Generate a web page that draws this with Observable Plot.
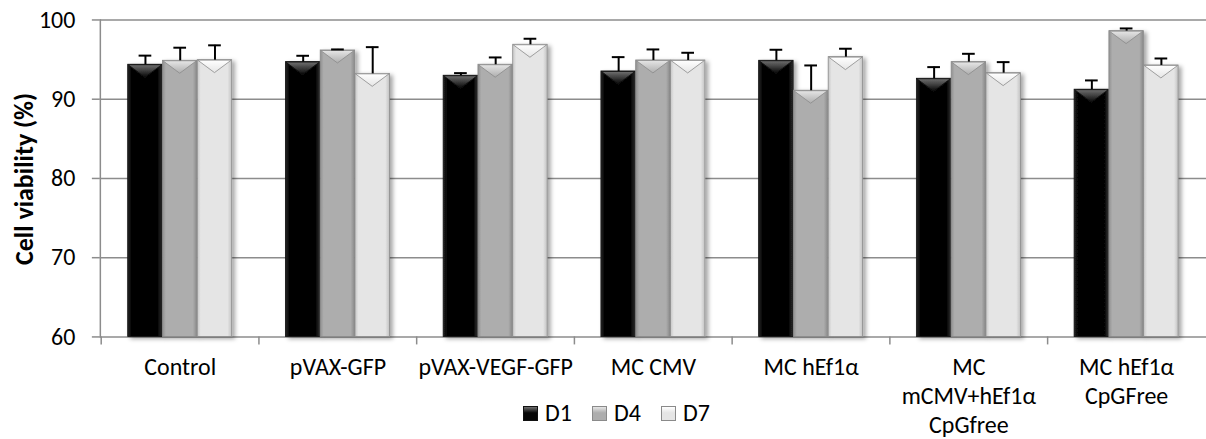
<!DOCTYPE html>
<html>
<head>
<meta charset="utf-8">
<script src="https://cdn.jsdelivr.net/npm/d3@7"></script>
<script src="https://cdn.jsdelivr.net/npm/@observablehq/plot@0.6"></script>
<style>
  html, body { margin: 0; padding: 0; background: #fff; overflow: hidden; }
  #chart { position: relative; width: 1206px; height: 439px; overflow: hidden;
           font-family: Carlito, Calibri, Lato, sans-serif; color: #000; }
  #chart svg { position: absolute; left: 0; top: 0; overflow: visible; }
  .legend { position: absolute; left: 523px; top: 401px; display: flex; align-items: center;
            font-size: 24px; line-height: 24px; }
  .legend .item { display: flex; align-items: center; margin-right: 20px; }
  .legend .sw { width: 15px; height: 15px; box-sizing: border-box; margin-right: 7px; }
</style>
</head>
<body>
<div id="chart"></div>
<script>
// Cell viability (%) per construct, measured on day 1, 4 and 7
const categories = [
  "Control",
  "pVAX-GFP",
  "pVAX-VEGF-GFP",
  "MC CMV",
  "MC hEf1α",
  "MC\nmCMV+hEf1α\nCpGfree",
  "MC hEf1α\nCpGFree"
];
const series = ["D1", "D4", "D7"];
const d1 = [94.35, 94.68, 92.96, 93.50, 94.85, 92.58, 91.20];
const d1Err = [1.15, 0.80, 0.33, 1.81, 1.39, 1.47, 1.17];
const d4 = [94.85, 96.15, 94.35, 94.89, 91.07, 94.68, 98.59];
const d4Err = [1.65, 0.13, 0.92, 1.39, 3.19, 1.05, 0.34];
const d7 = [94.93, 93.20, 96.87, 94.89, 95.31, 93.29, 94.26];
const d7Err = [1.87, 3.37, 0.76, 0.97, 1.06, 1.39, 0.88];
const yTicks = [60, 70, 80, 90, 100];
const yMin = 60, yMax = 100;
const yTitle = "Cell viability (%)";

const valuesBySeries = {D1: [d1, d1Err], D4: [d4, d4Err], D7: [d7, d7Err]};
const rows = series.flatMap((s) =>
  categories.map((c, i) => ({category: c, series: s, value: valuesBySeries[s][0][i], err: valuesBySeries[s][1][i]}))
);

// layout
const W = 1208, H = 439;
const mLeft = 100, mRight = 0, mTop = 19.5, mBottom = 102;
const step = (W - mLeft - mRight) / categories.length;
const groupPad = 0.17 * step;      // space before the first bar in a band
const barW = 0.22 * step;          // width of one bar
const capW = 13;

const gray = "#8c8c8c";
const font = "Carlito, Calibri, Lato, sans-serif";

function seriesMarks(s, k) {
  const data = rows.filter((d) => d.series === s);
  const left = groupPad + k * barW;
  const right = step - left - barW;
  const center = left + barW / 2;
  const capL = center - capW / 2;
  const capR = step - center - capW / 2;
  return [
    Plot.barY(data, {
      x: "category", y1: () => yMin, y2: "value",
      insetLeft: left, insetRight: right,
      fill: `url(#grad-${s})`,
      stroke: s === "D1" ? "#111" : "#8a8a8a", strokeWidth: 0.8
    }),
    Plot.ruleX(data, {
      x: "category", y1: "value", y2: (d) => d.value + d.err,
      dx: center - step / 2, stroke: "#000", strokeWidth: 2
    }),
    Plot.tickY(data, {
      y: (d) => d.value + d.err, x: "category",
      insetLeft: capL, insetRight: capR, stroke: "#000", strokeWidth: 2
    })
  ];
}

const plot = Plot.plot({
  width: W, height: H,
  marginLeft: mLeft, marginRight: mRight, marginTop: mTop, marginBottom: mBottom,
  style: {fontFamily: font, fontSize: "24px", color: "#000", background: "transparent"},
  x: {domain: categories, padding: 0, axis: null},
  y: {domain: [yMin, yMax], axis: null},
  marks: [
    Plot.gridY(yTicks, {stroke: gray, strokeOpacity: 1, strokeWidth: 1.5}),
    Plot.frame({anchor: "left", stroke: gray, strokeWidth: 1.5}),
    Plot.axisY(yTicks, {tickSize: 8, tickPadding: 17, fontSize: 24, stroke: gray, strokeWidth: 1.5,
      label: null}),
    Plot.axisX({tickSize: 8, tickFormat: () => "", dx: -step / 2, stroke: gray, strokeWidth: 1.5, label: null}),
    Plot.axisX({tickSize: 0, tickPadding: 18, fontSize: 24, lineHeight: 1.2, label: null}),
    ...series.flatMap((s, k) => seriesMarks(s, k))
  ]
});

const chart = document.getElementById("chart");
chart.appendChild(plot);

// bevelled bar look: side shading, top chevron, soft drop shadow
const shades = {
  D1: {edgeL: "#262626", mid: "#060606", edgeR: "#303030", top: "#707070"},
  D4: {edgeL: "#909090", mid: "#adadad", edgeR: "#8a8a8a", top: "#e6e6e6"},
  D7: {edgeL: "#c6c6c6", mid: "#e5e5e5", edgeR: "#c2c2c2", top: "#ffffff"}
};
const svg = d3.select(plot);
const defs = svg.insert("defs", ":first-child");
const shadow = defs.append("filter").attr("id", "bar-shadow")
  .attr("x", "-20%").attr("y", "-5%").attr("width", "150%").attr("height", "115%");
shadow.append("feDropShadow").attr("dx", 3).attr("dy", 2).attr("stdDeviation", 2.2)
  .attr("flood-color", "#000").attr("flood-opacity", 0.35);
for (const s of series) {
  const c = shades[s];
  const g = defs.append("linearGradient").attr("id", `grad-${s}`).attr("x1", 0).attr("x2", 1).attr("y1", 0).attr("y2", 0);
  [[0, c.edgeL], [0.1, c.mid], [0.88, c.mid], [1, c.edgeR]].forEach(([o, col]) =>
    g.append("stop").attr("offset", o).attr("stop-color", col));
  const t = defs.append("linearGradient").attr("id", `top-${s}`).attr("x1", 0).attr("x2", 0).attr("y1", 0).attr("y2", 1);
  t.append("stop").attr("offset", 0).attr("stop-color", c.top);
  t.append("stop").attr("offset", 1).attr("stop-color", c.mid);
}
svg.selectAll('g[aria-label="bar"]').each(function (_, k) {
  const s = series[k];
  const g = d3.select(this).attr("filter", "url(#bar-shadow)");
  g.selectAll("rect").each(function () {
    const r = d3.select(this);
    const x = +r.attr("x"), y = +r.attr("y"), w = +r.attr("width"), h = +r.attr("height");
    const d = Math.min(13, h);
    g.append("path")
      .attr("d", `M${x + 0.5},${y + 0.5}H${x + w - 0.5}L${x + w / 2},${y + d}Z`)
      .attr("fill", `url(#top-${s})`);
  });
});

// y-axis title, centred on the plot area's height
svg.append("text")
  .attr("transform", `translate(24,${(mTop + H - mBottom) / 2 + 1}) rotate(-90)`)
  .attr("text-anchor", "middle")
  .attr("dominant-baseline", "central")
  .attr("font-family", font)
  .attr("font-size", 26)
  .attr("font-weight", "bold")
  .attr("fill", "#000")
  .text(yTitle);

// legend
const legend = d3.select(chart).append("div").attr("class", "legend");
series.forEach((s) => {
  const c = shades[s];
  const item = legend.append("div").attr("class", "item");
  item.append("div").attr("class", "sw")
    .style("background", `linear-gradient(180deg, ${c.top} 0%, ${c.mid} 45%, ${c.mid} 100%)`)
    .style("border", `1px solid ${s === "D1" ? "#111" : "#8a8a8a"}`);
  item.append("span").text(s);
});
</script>
</body>
</html>
